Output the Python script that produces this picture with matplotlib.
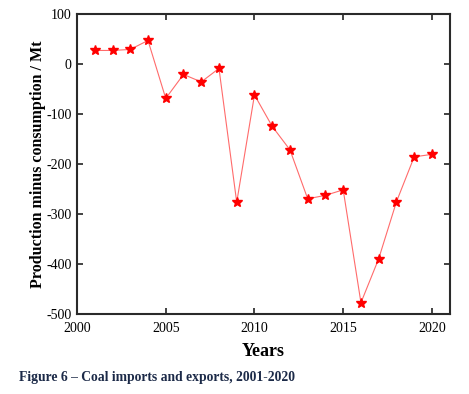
import matplotlib
matplotlib.use("Agg")
import matplotlib.pyplot as plt

years = [2001, 2002, 2003, 2004, 2005, 2006, 2007, 2008, 2009, 2010,
         2011, 2012, 2013, 2014, 2015, 2016, 2017, 2018, 2019, 2020]
balance = [27, 27, 29, 47, -69, -21, -36, -9, -277, -62,
           -125, -172, -270, -263, -252, -478, -390, -276, -186, -181]
x_ticks = [2000, 2005, 2010, 2015, 2020]
y_ticks = [100, 0, -100, -200, -300, -400, -500]

plt.rcParams['font.family'] = ['Liberation Serif', 'DejaVu Serif']
plt.rcParams['axes.unicode_minus'] = False

fig = plt.figure(figsize=(4.69, 3.94), dpi=100)
ax = fig.add_axes([0.1642, 0.2038, 0.7946, 0.7607])

ax.plot(years, balance, color='#ff6b6b', linewidth=0.8, zorder=2)
ax.plot(years, balance, linestyle='none', marker='*', markersize=7.5,
        color='red', markeredgecolor='red', zorder=3)

ax.set_xlim(2000, 2021)
ax.set_ylim(-500, 100)
ax.set_xticks(x_ticks)
ax.set_yticks(y_ticks)
ax.tick_params(direction='in', top=True, right=True, length=4, width=1.2,
               labelsize=10, pad=4, color='#222222')
ax.tick_params(axis='x', pad=6)
for s in ax.spines.values():
    s.set_linewidth(1.5)
    s.set_color('#2a2a2a')

ax.set_xlabel("Years", fontsize=13, fontweight='bold', labelpad=6)
ax.set_ylabel("Production minus consumption / Mt", fontsize=11.5,
              fontweight='bold', labelpad=0)

fig.text(0.04, 0.033, "Figure 6 \u2013 Coal imports and exports, 2001-2020",
         fontsize=9.8, fontweight='bold', color='#1c2a48')

fig.savefig("out.png", dpi=100)
